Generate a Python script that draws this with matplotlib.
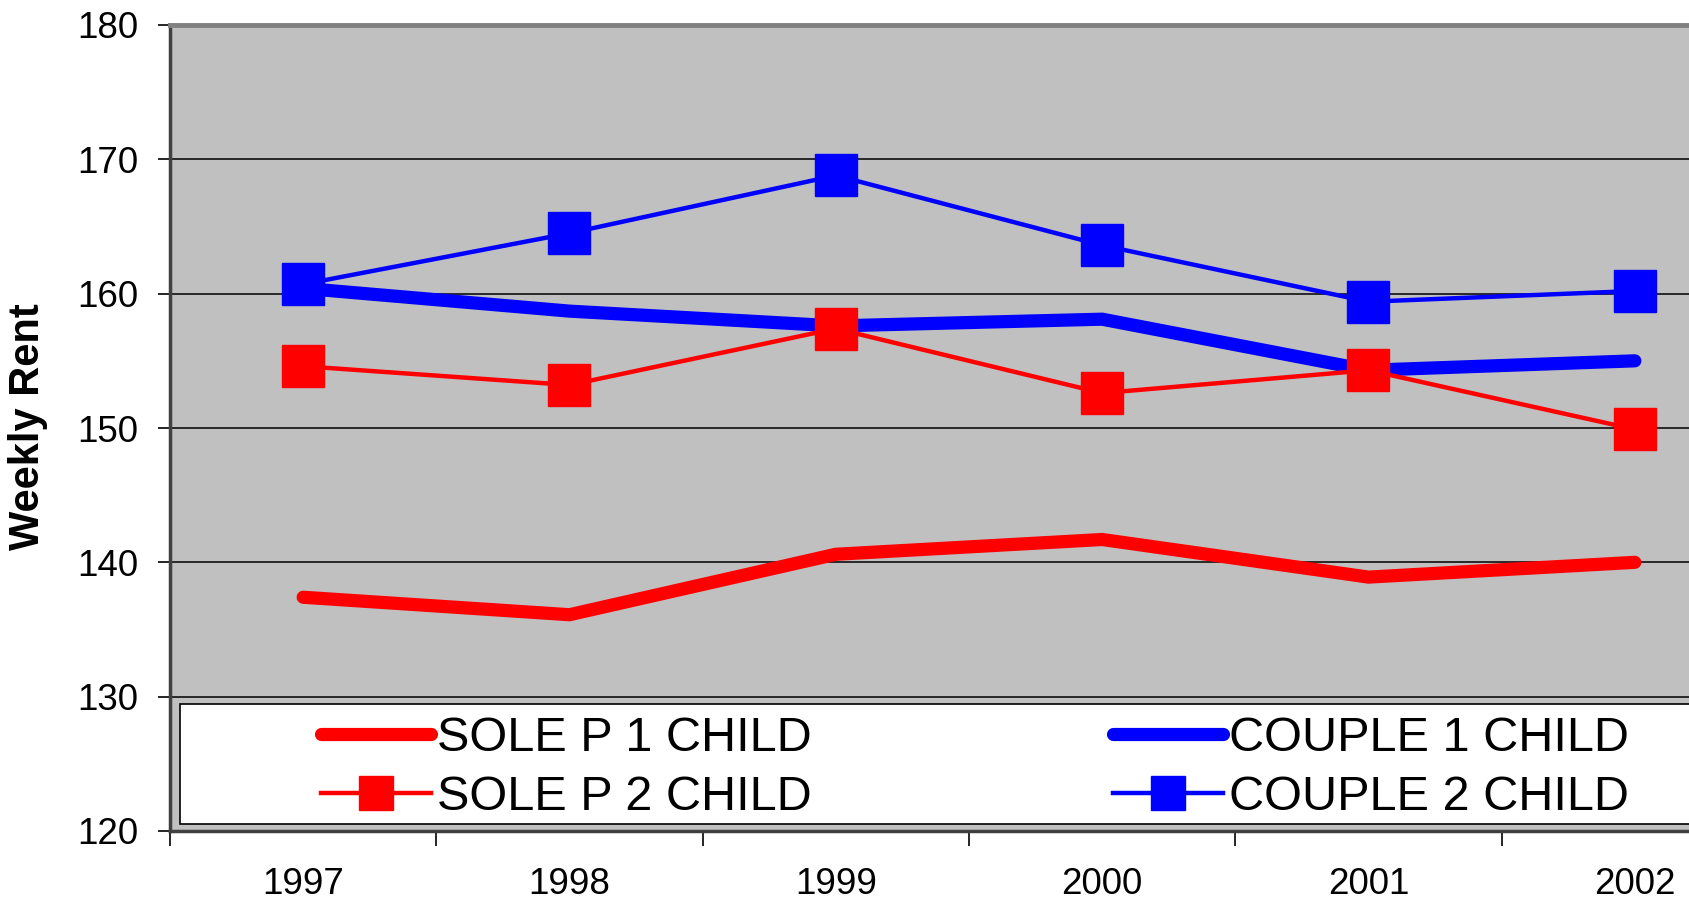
import numpy as np
import matplotlib
matplotlib.use("Agg")
import matplotlib.pyplot as plt
from matplotlib.patches import Rectangle

plt.rcParams['font.family'] = ['Liberation Sans', 'DejaVu Sans']

years = ['1997', '1998', '1999', '2000', '2001', '2002']
soleP1 = [137.4, 136.1, 140.6, 141.7, 138.9, 140.0]
couple1 = [160.4, 158.7, 157.6, 158.1, 154.3, 155.0]
soleP2 = [154.6, 153.2, 157.4, 152.6, 154.3, 149.9]
couple2 = [160.7, 164.5, 168.8, 163.6, 159.4, 160.2]

W, H = 1690, 900
fig = plt.figure(figsize=(W/100, H/100), dpi=100)
# plot area runs past the right edge, as in the original
left, right, top, bottom = 170, 1768, 25, 831
ax = fig.add_axes([left/W, 1-bottom/H, (right-left)/W, (bottom-top)/H])
ax.set_facecolor('#C0C0C0')

x = np.arange(len(years))
l1, = ax.plot(x, soleP1, color='#FF0000', lw=9.5, solid_capstyle='round',
              solid_joinstyle='miter', label='SOLE P 1 CHILD', zorder=3)
l2, = ax.plot(x, soleP2, color='#FF0000', lw=3.2, marker='s', ms=30,
              label='SOLE P 2 CHILD', zorder=4)
l3, = ax.plot(x, couple1, color='#0000FF', lw=9.5, solid_capstyle='round',
              solid_joinstyle='miter', label='COUPLE 1 CHILD', zorder=3)
l4, = ax.plot(x, couple2, color='#0000FF', lw=3.2, marker='s', ms=30,
              label='COUPLE 2 CHILD', zorder=4)

ax.set_xlim(-0.5, len(years)-0.5)
ax.set_ylim(120, 180)
ax.set_yticks(np.arange(120, 181, 10))
ax.yaxis.grid(True, color='black', lw=1.1)
ax.set_axisbelow(True)
ax.tick_params(axis='y', labelsize=26.5, length=9, width=1.2, pad=13.5, direction='out')

ax.set_xticks(np.arange(-0.5, len(years), 1.0))
ax.set_xticklabels([])
ax.set_xticks(x, minor=True)
ax.set_xticklabels(years, minor=True)
ax.tick_params(axis='x', which='major', length=11, width=1.2, direction='out')
ax.tick_params(axis='x', which='minor', length=0, labelsize=26.5, pad=26)

fig.text(28/W, 1-427/H, 'Weekly Rent', fontsize=30, fontweight='bold',
         rotation=90, ha='center', va='center')

for s in ['left', 'bottom']:
    ax.spines[s].set_color('#404040')
    ax.spines[s].set_linewidth(2.5)
ax.spines['top'].set_color('#808080')
ax.spines['top'].set_linewidth(3.5)
ax.spines['right'].set_visible(False)

# legend box
box = Rectangle(((180-left)/(right-left), (bottom-824)/(bottom-top)),
                0.99, (824-704)/(bottom-top), transform=ax.transAxes,
                facecolor='white', edgecolor='black', lw=1.2, zorder=5)
ax.add_patch(box)

leg = fig.legend(handles=[l1, l2, l3, l4], ncol=2, loc='center left',
                 bbox_to_anchor=(321/W, 1-768/H), frameon=False, fontsize=35,
                 handlelength=2.26, handletextpad=0.12, columnspacing=6.2,
                 labelspacing=0.27, borderpad=0, borderaxespad=0, markerscale=0.8)
leg.set_zorder(6)

fig.savefig('out.png', dpi=100)
